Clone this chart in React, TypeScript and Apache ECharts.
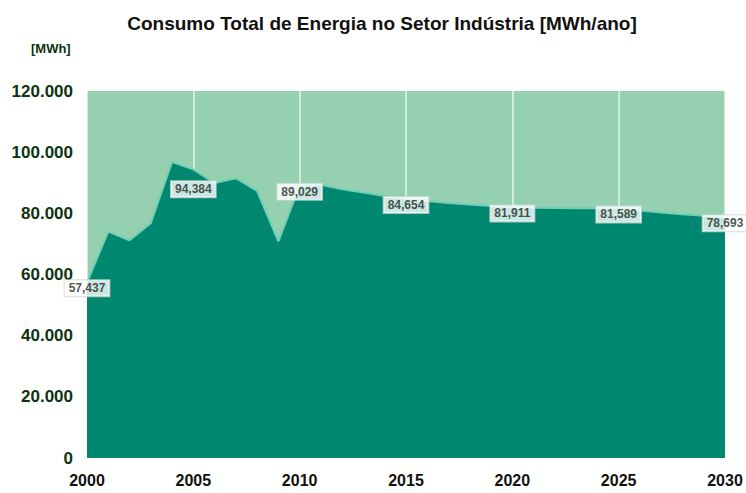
import React, { useEffect, useRef } from "react";
import * as echarts from "echarts";

const years = [
  "2000", "2001", "2002", "2003", "2004", "2005", "2006", "2007", "2008", "2009",
  "2010", "2011", "2012", "2013", "2014", "2015", "2016", "2017", "2018", "2019",
  "2020", "2021", "2022", "2023", "2024", "2025", "2026", "2027", "2028", "2029", "2030",
];
const consumo = [
  57437, 74000, 71200, 76800, 96800, 94384, 89900, 91500, 87300, 70800,
  89029, 89300, 87900, 86800, 85700, 84654, 84000, 83400, 82900, 82400,
  81911, 81850, 81750, 81700, 81650, 81589, 80900, 80300, 79700, 79200, 78693,
];
const labelYears = ["2000", "2005", "2010", "2015", "2020", "2025", "2030"];
const yTicks = [0, 20000, 40000, 60000, 80000, 100000, 120000];

const FONT = "'Liberation Sans', Arial, Helvetica, sans-serif";

function fmtDot(v: number) {
  return String(v).replace(/\B(?=(\d{3})+(?!\d))/g, ".");
}
function fmtComma(v: number) {
  return String(v).replace(/\B(?=(\d{3})+(?!\d))/g, ",");
}

export default function App() {
  const ref = useRef<HTMLDivElement>(null);
  useEffect(() => {
    document.body.style.margin = "0";
    if (!ref.current) return;
    const chart = echarts.init(ref.current, undefined, { renderer: "svg" });
    const labelData = labelYears.map((y) => {
      const i = years.indexOf(y);
      return {
        value: [y, consumo[i]],
        label: { offset: y === "2005" ? [0, 20] : [0, 6] },
      };
    });
    chart.setOption({
      animation: false,
      backgroundColor: "#ffffff",
      title: {
        text: "Consumo Total de Energia no Setor Indústria [MWh/ano]",
        left: 377,
        textAlign: "center",
        top: 9,
        textStyle: { fontFamily: FONT, fontSize: 19, fontWeight: "bold", color: "#111" },
      },
      graphic: [
        {
          type: "text",
          left: 31,
          top: 42,
          style: { text: "[MWh]", font: `bold 13px ${FONT}`, fill: "#0d3311" },
        },
      ],
      grid: {
        left: 87,
        right: 21,
        top: 91,
        bottom: 35,
        show: true,
        backgroundColor: "#95d0b0",
        borderWidth: 0,
      },
      xAxis: {
        type: "category",
        data: years,
        boundaryGap: false,
        axisLine: { show: false },
        axisTick: { show: false },
        axisLabel: {
          interval: 4,
          margin: 14,
          fontFamily: FONT,
          fontSize: 16,
          fontWeight: "bold",
          color: "#111",
        },
        splitLine: {
          show: true,
          interval: 4,
          lineStyle: { color: "rgba(255,255,255,0.75)", width: 1.5 },
        },
      },
      yAxis: {
        type: "value",
        min: yTicks[0],
        max: yTicks[yTicks.length - 1],
        interval: 20000,
        axisLine: { show: false },
        axisTick: { show: false },
        splitLine: { show: false },
        axisLabel: {
          margin: 14,
          fontFamily: FONT,
          fontSize: 17,
          fontWeight: "bold",
          color: "#0d3311",
          formatter: (v: number) => fmtDot(v),
        },
      },
      series: [
        {
          type: "line",
          data: consumo,
          symbol: "none",
          lineStyle: { color: "#72cfb5", width: 2 },
          areaStyle: { color: "#00876f", opacity: 1 },
          silent: true,
        },
        {
          type: "scatter",
          data: labelData,
          symbolSize: 1,
          itemStyle: { color: "rgba(0,0,0,0)" },
          z: 5,
          label: {
            show: true,
            position: "inside",
            formatter: (p: any) => fmtComma(p.value[1]),
            fontFamily: FONT,
            fontSize: 12,
            fontWeight: "bold",
            color: "#1a2a22",
            backgroundColor: "#ffffff",
            borderColor: "#cfd8d4",
            borderWidth: 1,
            padding: [2, 4],
          },
        },
      ],
    });
    return () => chart.dispose();
  }, []);
  return <div ref={ref} style={{ width: 746, height: 493 }} />;
}
